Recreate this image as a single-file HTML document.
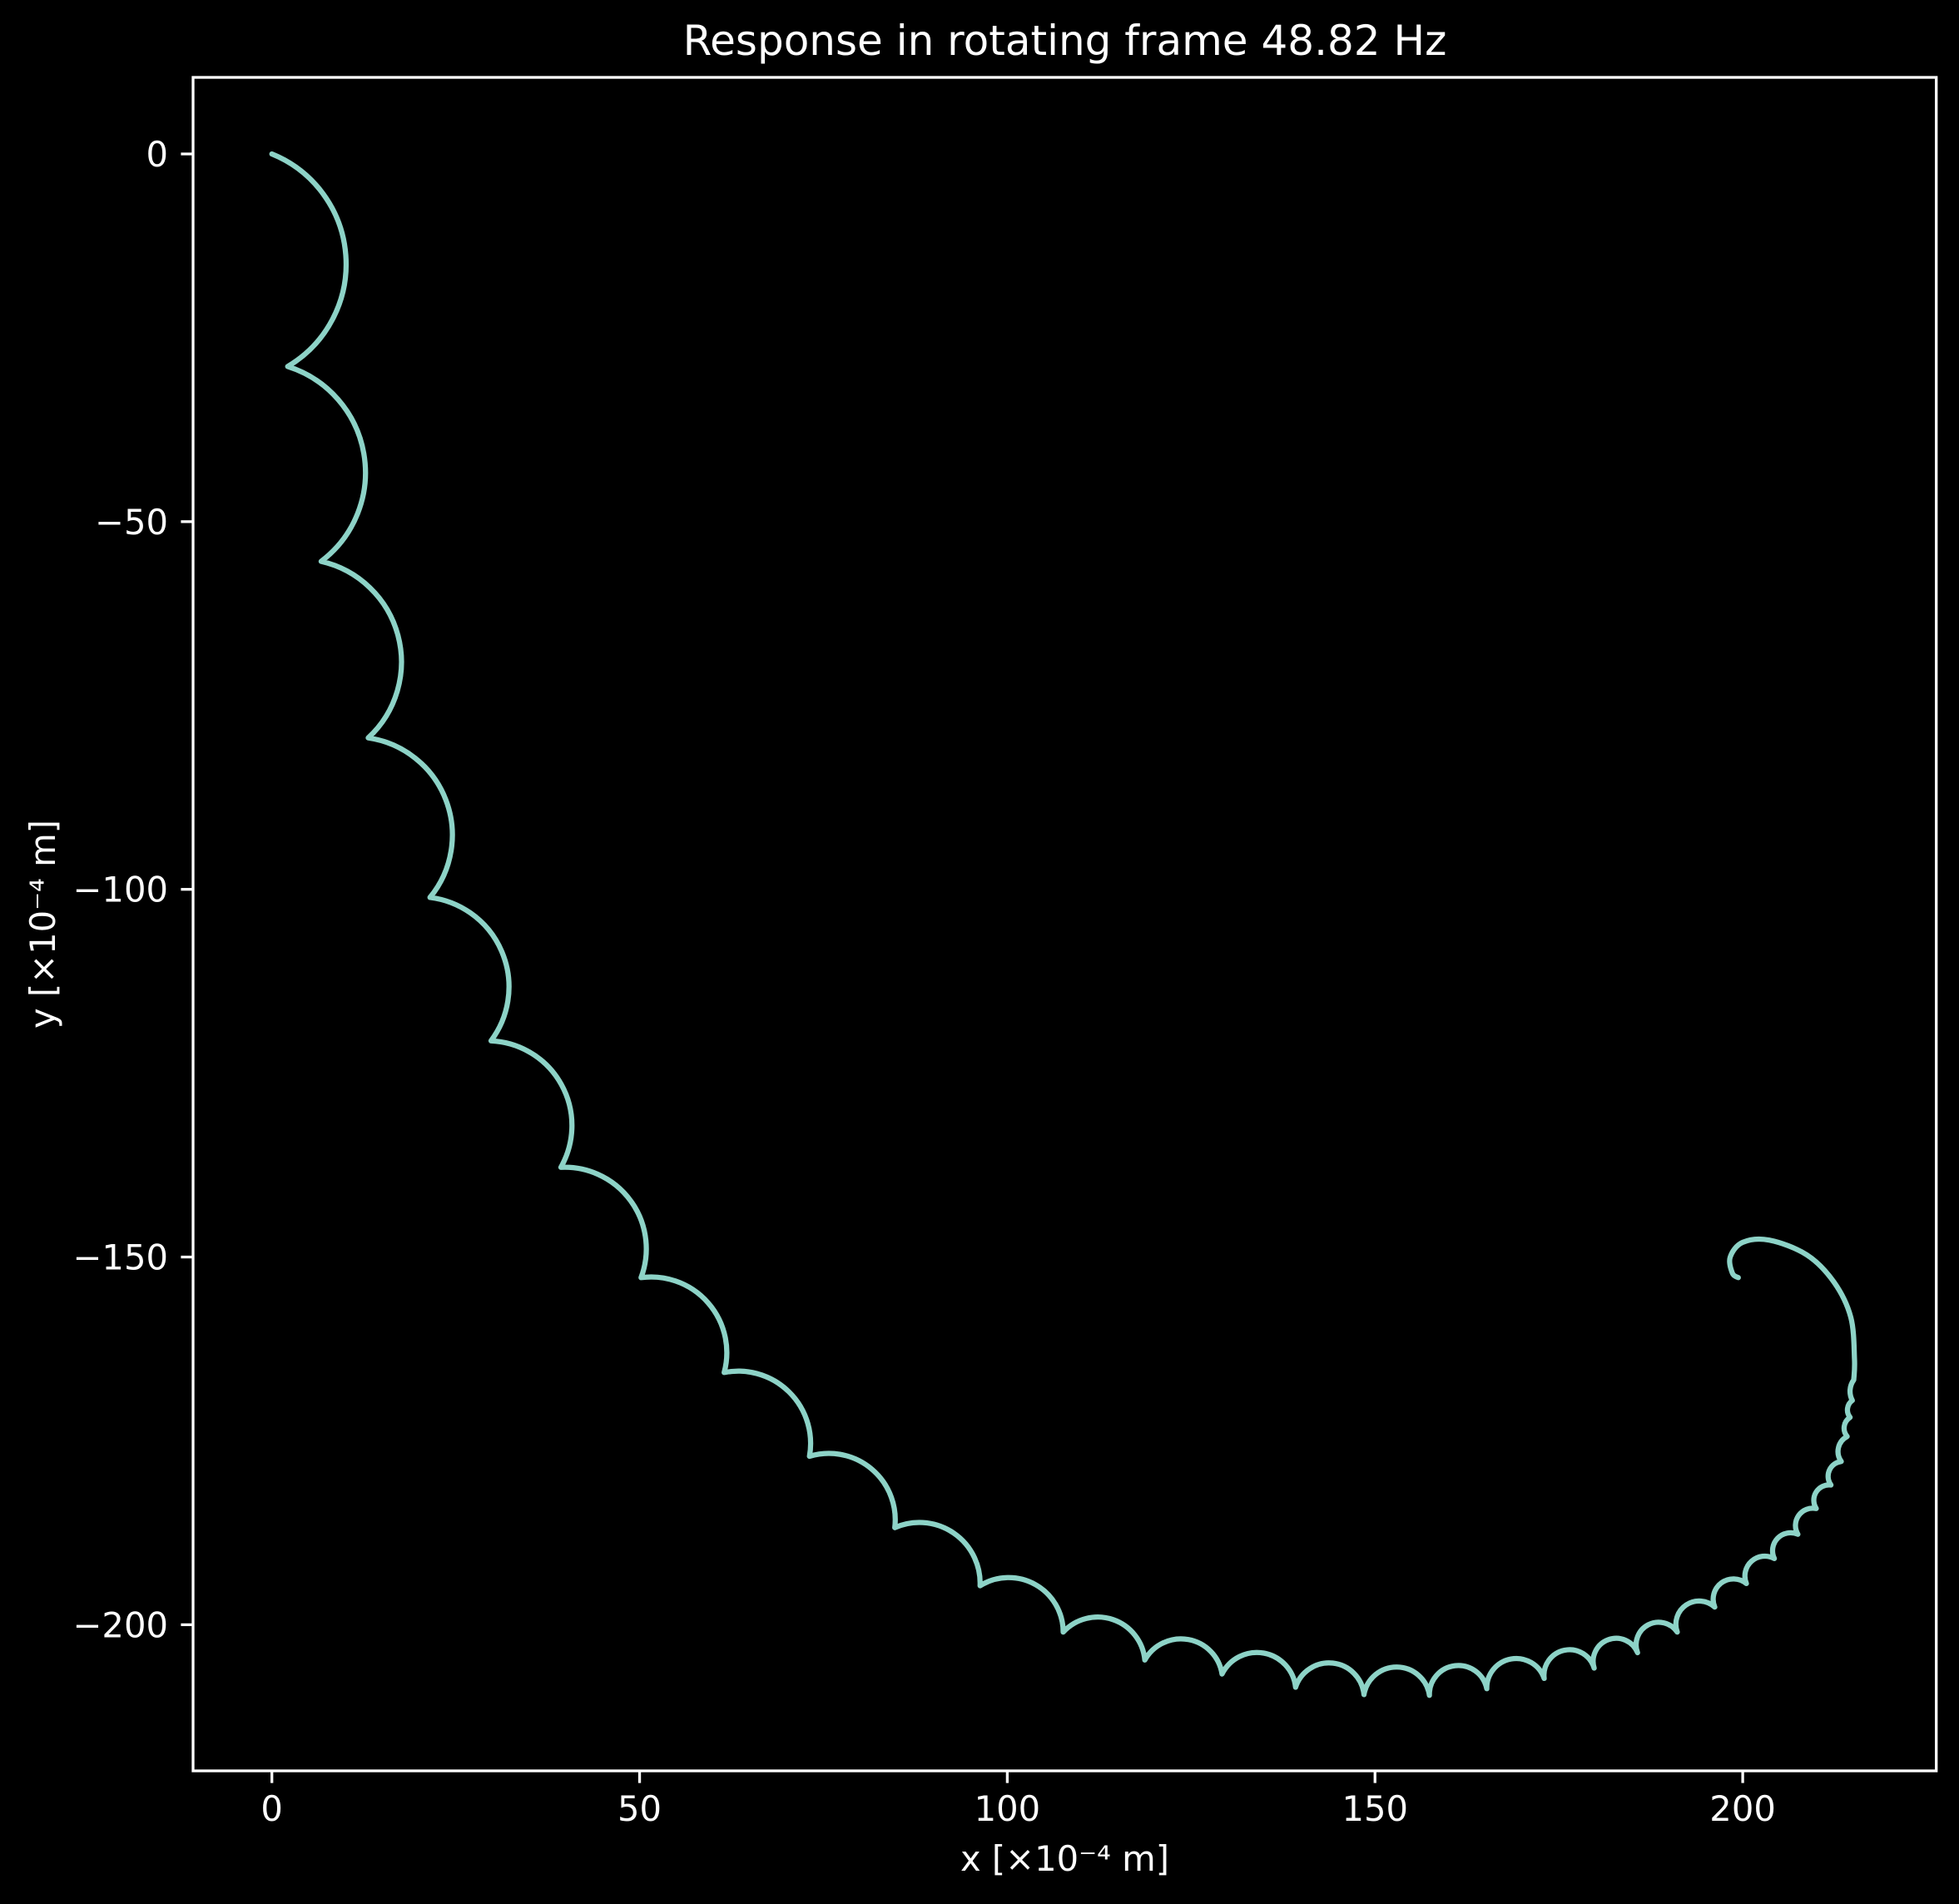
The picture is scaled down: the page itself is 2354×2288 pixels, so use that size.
<!DOCTYPE html>
<html><head><meta charset="utf-8"><style>
html,body{margin:0;padding:0;background:#000;}
svg{display:block;font-family:"DejaVu Sans","Liberation Sans",sans-serif;}
</style></head><body>
<svg id="chart" width="2354" height="2288" viewBox="0 0 2354 2288" xmlns="http://www.w3.org/2000/svg">
<rect width="2354" height="2288" fill="#000"/>
<text x="1279.5" y="66" fill="#fff" font-size="50" text-anchor="middle">Response in rotating frame 48.82 Hz</text>
<text x="1279.5" y="2248" fill="#fff" font-size="41.7" text-anchor="middle">x [×10⁻⁴ m]</text>
<text x="0" y="0" transform="translate(66,1110.5) rotate(-90)" fill="#fff" font-size="41.7" text-anchor="middle">y [×10⁻⁴ m]</text>
<g id="ticks"></g>
<path id="curve" fill="none" stroke="#8dd3c7" stroke-width="6.25" stroke-linejoin="round" stroke-linecap="round"/>
<rect x="232" y="93" width="2094.7" height="2035" fill="none" stroke="#fff" stroke-width="3.3"/>
</svg>
<script>
const xTicks = [0, 50, 100, 150, 200];
const yTicks = [0, -50, -100, -150, -200];
const cuspX = [0, 2.15, 6.7, 13.1, 21.5, 29.8, 39.3, 50.2, 61.5, 73.1, 84.7, 96.3, 107.6, 118.7, 129.2, 139.2, 148.5, 157.4, 165.2, 173.0, 179.8, 185.7, 191.1, 196.2, 200.5, 204.3, 207.5, 210.0, 212.0, 213.4, 214.2, 214.6, 214.9, 215.1];
const cuspY = [0, -28.9, -55.4, -79.4, -101.1, -120.6, -137.8, -152.8, -165.7, -177.1, -186.8, -194.7, -201.0, -204.8, -206.7, -208.5, -209.5, -209.6, -208.7, -207.3, -205.9, -203.8, -201.0, -197.6, -194.4, -191.0, -187.7, -184.2, -181.0, -177.8, -174.4, -171.8, -169.5, -166.7];
const lobeHeight = [9.0, 8.2, 7.5, 6.8, 6.1, 5.5, 5.0, 4.6, 4.3, 4.1, 3.9, 3.8, 3.8, 3.8, 3.8, 3.8, 3.8, 3.6, 3.4, 3.2, 3.0, 2.7, 2.4, 2.1, 1.8, 1.6, 1.4, 1.2, 1.0, 0.8, 0.6, 0.5, 0.4];
const tailX = [215.2, 214.7, 212.4, 208.7, 203.6, 200.0, 198.3, 198.6, 199.4];
const tailY = [-163.9, -158.2, -153.4, -149.7, -147.7, -148.0, -150.0, -152.2, -152.8];

const X0 = 326.7, Y0 = 185, K = 8.837;
function sx(v){ return X0 + v*K; }
function sy(v){ return Y0 - v*K; }

const NS = "http://www.w3.org/2000/svg";
const tg = document.getElementById('ticks');
xTicks.forEach(v => {
  const l = document.createElementNS(NS,'line');
  l.setAttribute('x1', sx(v)); l.setAttribute('x2', sx(v));
  l.setAttribute('y1', 2128); l.setAttribute('y2', 2142.6);
  l.setAttribute('stroke','#fff'); l.setAttribute('stroke-width','3.3');
  
  
  tg.appendChild(l);
  const t = document.createElementNS(NS,'text');
  t.setAttribute('x', sx(v)); t.setAttribute('y', 2188);
  t.setAttribute('fill','#fff'); t.setAttribute('font-size','41.7'); t.setAttribute('text-anchor','middle');
  t.textContent = String(v).replace('-', '\u2212');
  
  
  tg.appendChild(t);
});
yTicks.forEach(v => {
  const l = document.createElementNS(NS,'line');
  l.setAttribute('x1', 217.4); l.setAttribute('x2', 232);
  l.setAttribute('y1', sy(v)); l.setAttribute('y2', sy(v));
  l.setAttribute('stroke','#fff'); l.setAttribute('stroke-width','3.3');
  
  
  tg.appendChild(l);
  const t = document.createElementNS(NS,'text');
  t.setAttribute('x', 202); t.setAttribute('y', sy(v) + 15);
  t.setAttribute('fill','#fff'); t.setAttribute('font-size','41.7'); t.setAttribute('text-anchor','end');
  t.textContent = String(v).replace('-', '\u2212');
  
  
  tg.appendChild(t);
});

let d = 'M' + sx(cuspX[0]).toFixed(2) + ' ' + sy(cuspY[0]).toFixed(2);
for (let i = 0; i < cuspX.length - 1; i++) {
  const ax = sx(cuspX[i]), ay = sy(cuspY[i]), bx = sx(cuspX[i+1]), by = sy(cuspY[i+1]);
  const c = Math.hypot(bx-ax, by-ay);
  const h = lobeHeight[i] * K;
  const r = (c*c/4 + h*h) / (2*h);
  const large = h > c/2 ? 1 : 0;
  d += ' A' + r.toFixed(2) + ' ' + r.toFixed(2) + ' 0 ' + large + ' 1 ' + bx.toFixed(2) + ' ' + by.toFixed(2);
}
const pts = [[sx(cuspX[cuspX.length-1]), sy(cuspY[cuspY.length-1])]];
for (let i = 0; i < tailX.length; i++) pts.push([sx(tailX[i]), sy(tailY[i])]);
for (let i = 0; i < pts.length - 1; i++) {
  const p0 = pts[Math.max(0,i-1)], p1 = pts[i], p2 = pts[i+1], p3 = pts[Math.min(pts.length-1,i+2)];
  const c1x = p1[0] + (p2[0]-p0[0])/6, c1y = p1[1] + (p2[1]-p0[1])/6;
  const c2x = p2[0] - (p3[0]-p1[0])/6, c2y = p2[1] - (p3[1]-p1[1])/6;
  d += ' C' + c1x.toFixed(2) + ' ' + c1y.toFixed(2) + ' ' + c2x.toFixed(2) + ' ' + c2y.toFixed(2) + ' ' + p2[0].toFixed(2) + ' ' + p2[1].toFixed(2);
}
document.getElementById('curve').setAttribute('d', d);
</script>
</body></html>
